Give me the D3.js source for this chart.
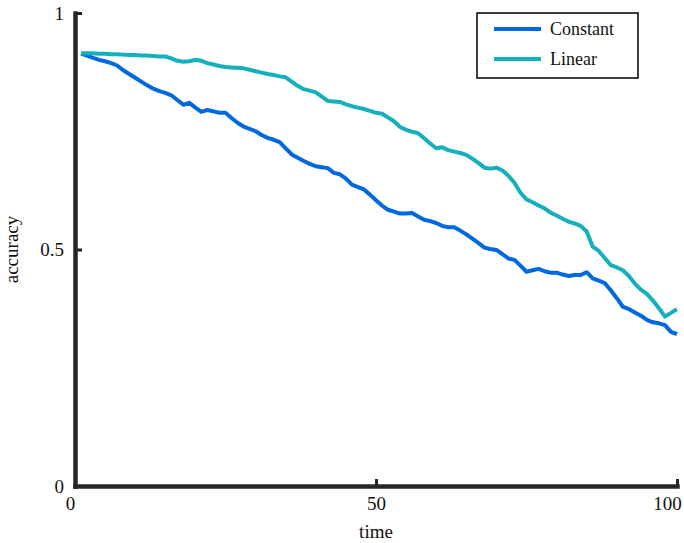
<!DOCTYPE html>
<html>
<head>
<meta charset="utf-8">
<script src="https://cdn.jsdelivr.net/npm/d3@7"></script>
<style>
  body { margin: 0; background: #fff; }
  text { font-family: "Liberation Serif", "Times New Roman", serif; fill: #111; }
  .axis .domain { stroke: #262626; stroke-width: 4.5; stroke-linecap: square; }
  .axis .tick line { stroke: #262626; stroke-width: 3; }
  .axis .tick text { font-size: 19px; fill: #111; }
  .line { fill: none; stroke-width: 4; stroke-linejoin: round; }
</style>
</head>
<body>
<div id="chart"></div>
<script>
// values
const time = d3.range(1, 101);

const constantAcc = [
  0.914, 0.910, 0.905, 0.901, 0.898, 0.894, 0.889, 0.879, 0.871, 0.863,
  0.855, 0.847, 0.840, 0.835, 0.831, 0.826, 0.816, 0.806, 0.810, 0.800,
  0.791, 0.795, 0.792, 0.789, 0.789, 0.778, 0.768, 0.760, 0.755, 0.750,
  0.742, 0.736, 0.732, 0.727, 0.714, 0.701, 0.694, 0.687, 0.681, 0.676,
  0.674, 0.672, 0.662, 0.659, 0.650, 0.637, 0.632, 0.627, 0.616, 0.604,
  0.593, 0.584, 0.580, 0.576, 0.576, 0.577, 0.570, 0.563, 0.560, 0.556,
  0.550, 0.547, 0.547, 0.540, 0.532, 0.523, 0.514, 0.504, 0.501, 0.499,
  0.490, 0.481, 0.478, 0.466, 0.453, 0.456, 0.459, 0.454, 0.451, 0.451,
  0.447, 0.444, 0.446, 0.446, 0.452, 0.439, 0.434, 0.429, 0.414, 0.397,
  0.379, 0.374, 0.367, 0.360, 0.351, 0.346, 0.344, 0.340, 0.326, 0.321
];

const linearAcc = [
  0.915, 0.915, 0.915, 0.914, 0.914, 0.913, 0.913, 0.912, 0.911, 0.911,
  0.910, 0.910, 0.909, 0.908, 0.908, 0.904, 0.899, 0.897, 0.898, 0.901,
  0.899, 0.894, 0.891, 0.888, 0.886, 0.885, 0.884, 0.883, 0.880, 0.877,
  0.874, 0.871, 0.869, 0.866, 0.864, 0.855, 0.846, 0.839, 0.836, 0.832,
  0.823, 0.814, 0.813, 0.812, 0.807, 0.803, 0.800, 0.797, 0.793, 0.789,
  0.787, 0.779, 0.771, 0.759, 0.753, 0.749, 0.746, 0.735, 0.724, 0.714,
  0.716, 0.710, 0.707, 0.704, 0.700, 0.692, 0.683, 0.673, 0.671, 0.673,
  0.667, 0.656, 0.641, 0.620, 0.606, 0.600, 0.593, 0.587, 0.578, 0.572,
  0.565, 0.559, 0.555, 0.550, 0.538, 0.506, 0.497, 0.482, 0.467, 0.462,
  0.456, 0.444, 0.428, 0.415, 0.406, 0.392, 0.376, 0.358, 0.366, 0.374
];

const seriesNames = ["Constant", "Linear"];
const seriesColors = ["#0069e0", "#14b0bb"];
const xTicks = [0, 50, 100];
const yTicks = [0, 0.5, 1];
const yTickLabels = ["0", "0.5", "1"];

const width = 684, height = 543;
const margin = { top: 13, left: 75, right: 7, bottom: 57 };
const chartWidth = width - margin.left - margin.right;
const chartHeight = height - margin.top - margin.bottom;

let xPositionScale = d3.scaleLinear()
  .domain([0, 100])
  .range([0, chartWidth]);

let yPositionScale = d3.scaleLinear()
  .domain([0, 1])
  .range([chartHeight, 0]);

let svg = d3.select("#chart")
  .append("svg")
  .attr("width", width)
  .attr("height", height);

let chart = svg.append("g")
  .attr("transform", "translate(" + margin.left + "," + margin.top + ")");

// lines
const allSeries = [constantAcc, linearAcc];
allSeries.forEach((values, i) => {
  let line = d3.line()
    .x((d, j) => xPositionScale(time[j]))
    .y(d => yPositionScale(d));
  chart.append("path")
    .attr("class", "line")
    .attr("stroke", seriesColors[i])
    .attr("d", line(values));
});

// axes, ticks pointing inward
let xAxis = d3.axisBottom(xPositionScale)
  .tickValues(xTicks)
  .tickSizeInner(-7)
  .tickSizeOuter(0)
  .tickPadding(11)
  .tickFormat(d3.format("d"));

let xg = chart.append("g")
  .attr("class", "axis x-axis")
  .attr("transform", "translate(0," + chartHeight + ")")
  .call(xAxis);

// end labels sit slightly inside the frame, as in the source figure
xg.selectAll(".tick text")
  .attr("dx", (d, i) => i === 0 ? -5 : (i === xTicks.length - 1 ? -10 : 0));

let yAxis = d3.axisLeft(yPositionScale)
  .tickValues(yTicks)
  .tickSizeInner(-7)
  .tickSizeOuter(0)
  .tickPadding(11)
  .tickFormat((d, i) => yTickLabels[i]);

chart.append("g")
  .attr("class", "axis y-axis")
  .call(yAxis);

chart.selectAll(".axis .tick text").attr("font-family", null);
chart.selectAll(".axis").attr("font-family", null).attr("font-size", null);

// axis titles
chart.append("text")
  .attr("x", chartWidth / 2)
  .attr("y", chartHeight + 52)
  .attr("text-anchor", "middle")
  .attr("font-size", 19)
  .text("time");

chart.append("text")
  .attr("transform", "translate(" + (-57) + "," + (chartHeight / 2) + ") rotate(-90)")
  .attr("text-anchor", "middle")
  .attr("font-size", 19)
  .text("accuracy");

// legend
let legend = svg.append("g")
  .attr("transform", "translate(477,13)");

legend.append("rect")
  .attr("width", 161)
  .attr("height", 65)
  .attr("fill", "#fff")
  .attr("stroke", "#000")
  .attr("stroke-width", 1.5);

seriesNames.forEach((name, i) => {
  let y = 16 + i * 30;
  legend.append("line")
    .attr("x1", 17)
    .attr("x2", 64)
    .attr("y1", y)
    .attr("y2", y)
    .attr("stroke", seriesColors[i])
    .attr("stroke-width", 4);
  legend.append("text")
    .attr("x", 73)
    .attr("y", y + 6)
    .attr("font-size", 18)
    .text(name);
});
</script>
</body>
</html>
